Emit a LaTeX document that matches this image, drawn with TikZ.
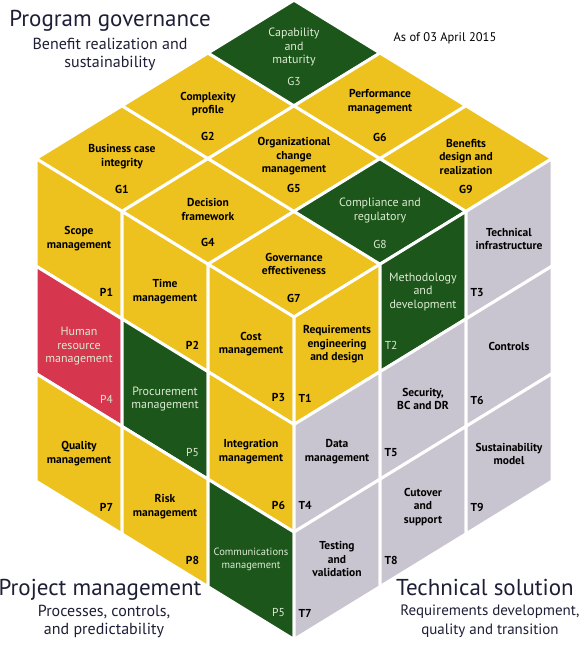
\documentclass[tikz,border=0pt]{standalone}
\usepackage{fontspec}
\setmainfont{PT Sans}
\usepackage{tikz}
\usetikzlibrary{positioning}

\definecolor{cubeyellow}{HTML}{EEC21E}
\definecolor{cubegreen}{HTML}{1D561B}
\definecolor{cubered}{HTML}{D6374E}
\definecolor{cubegray}{HTML}{C9C5D0}
\definecolor{inkblue}{HTML}{1E1E36}
\definecolor{paletext}{HTML}{DCEBD2}

\begin{document}
\begin{tikzpicture}[
    cell/.style={draw=white,line width=3pt,line join=round},
    ycell/.style={cell,fill=cubeyellow},
    gcell/.style={cell,fill=cubegreen},
    rcell/.style={cell,fill=cubered},
    grycell/.style={cell,fill=cubegray},
    txt/.style={align=center,font=\bfseries\fontsize{11.5}{13.5}\selectfont,text=black,inner sep=0pt},
    wtxt/.style={align=center,font=\fontsize{12}{13.5}\selectfont,text=paletext,inner sep=0pt},
    tag/.style={font=\bfseries\fontsize{11.5}{13}\selectfont,text=black,inner sep=0pt},
    wtag/.style={font=\fontsize{11.5}{13}\selectfont,text=paletext,inner sep=0pt},
    heading/.style={font=\fontsize{23}{25}\selectfont,text=inkblue,inner sep=0pt,anchor=base},
    subheading/.style={font=\fontsize{16}{18.5}\selectfont,text=inkblue,inner sep=0pt,anchor=base,align=center}
]

\useasboundingbox (0,0) rectangle (588pt,649pt);

% Face titles
\node[heading] (pg) at (110pt,622pt) {Program governance};
\node[subheading] (pgsub) at (110pt,581pt) {Benefit realization and\\sustainability};
\node[heading] (pm) at (100pt,53pt) {Project management};
\node[subheading] (pmsub) at (104pt,14pt) {Processes, controls,\\and predictability};
\node[heading] (ts) at (485pt,53pt) {Technical solution};
\node[subheading,font=\fontsize{15}{18.5}\selectfont] (tssub) at (490pt,15pt) {Requirements development,\\quality and transition};
\node[font=\fontsize{12.5}{14}\selectfont,inner sep=0pt] (date) at (445pt,611pt) {As of 03 April 2015};

\begin{scope}[shift={(294pt,332pt)},x={(86pt,52.8pt)},y={(-86pt,52.8pt)},z={(0pt,-107.5pt)}]

% Governance cells (top face)
\path[ycell] (0,2,0) -- (1,2,0) -- (1,3,0) -- (0,3,0) -- cycle;
\path[ycell] (1,2,0) -- (2,2,0) -- (2,3,0) -- (1,3,0) -- cycle;
\path[gcell] (2,2,0) -- (3,2,0) -- (3,3,0) -- (2,3,0) -- cycle;
\path[ycell] (0,1,0) -- (1,1,0) -- (1,2,0) -- (0,2,0) -- cycle;
\path[ycell] (1,1,0) -- (2,1,0) -- (2,2,0) -- (1,2,0) -- cycle;
\path[ycell] (2,1,0) -- (3,1,0) -- (3,2,0) -- (2,2,0) -- cycle;
\path[ycell] (0,0,0) -- (1,0,0) -- (1,1,0) -- (0,1,0) -- cycle;
\path[gcell] (1,0,0) -- (2,0,0) -- (2,1,0) -- (1,1,0) -- cycle;
\path[ycell] (2,0,0) -- (3,0,0) -- (3,1,0) -- (2,1,0) -- cycle;

% Project cells (left face)
\path[ycell] (0,2,0) -- (0,3,0) -- (0,3,1) -- (0,2,1) -- cycle;
\path[ycell] (0,1,0) -- (0,2,0) -- (0,2,1) -- (0,1,1) -- cycle;
\path[ycell] (0,0,0) -- (0,1,0) -- (0,1,1) -- (0,0,1) -- cycle;
\path[rcell] (0,2,1) -- (0,3,1) -- (0,3,2) -- (0,2,2) -- cycle;
\path[gcell] (0,1,1) -- (0,2,1) -- (0,2,2) -- (0,1,2) -- cycle;
\path[ycell] (0,0,1) -- (0,1,1) -- (0,1,2) -- (0,0,2) -- cycle;
\path[ycell] (0,2,2) -- (0,3,2) -- (0,3,3) -- (0,2,3) -- cycle;
\path[ycell] (0,1,2) -- (0,2,2) -- (0,2,3) -- (0,1,3) -- cycle;
\path[gcell] (0,0,2) -- (0,1,2) -- (0,1,3) -- (0,0,3) -- cycle;

% Technical cells (right face)
\path[ycell] (0,0,0) -- (1,0,0) -- (1,0,1) -- (0,0,1) -- cycle;
\path[gcell] (1,0,0) -- (2,0,0) -- (2,0,1) -- (1,0,1) -- cycle;
\path[grycell] (2,0,0) -- (3,0,0) -- (3,0,1) -- (2,0,1) -- cycle;
\path[grycell] (0,0,1) -- (1,0,1) -- (1,0,2) -- (0,0,2) -- cycle;
\path[grycell] (1,0,1) -- (2,0,1) -- (2,0,2) -- (1,0,2) -- cycle;
\path[grycell] (2,0,1) -- (3,0,1) -- (3,0,2) -- (2,0,2) -- cycle;
\path[grycell] (0,0,2) -- (1,0,2) -- (1,0,3) -- (0,0,3) -- cycle;
\path[grycell] (1,0,2) -- (2,0,2) -- (2,0,3) -- (1,0,3) -- cycle;
\path[grycell] (2,0,2) -- (3,0,2) -- (3,0,3) -- (2,0,3) -- cycle;

% Governance texts
\node[txt,yshift=2pt] (g1) at (0.5,2.5,0) {Business case\\integrity};
\node[txt,yshift=2pt] (g2) at (1.5,2.5,0) {Complexity\\profile};
\node[wtxt,yshift=6pt] (g3) at (2.5,2.5,0) {Capability\\and\\maturity};
\node[txt,yshift=2pt] (g4) at (0.5,1.5,0) {Decision\\framework};
\node[txt,yshift=2pt] (g5) at (1.5,1.5,0) {Organizational\\change\\management};
\node[txt,yshift=4pt] (g6) at (2.5,1.5,0) {Performance\\management};
\node[txt,yshift=0pt] (g7) at (0.5,0.5,0) {Governance\\effectiveness};
\node[wtxt,yshift=1pt] (g8) at (1.5,0.5,0) {Compliance and\\regulatory};
\node[txt,yshift=2pt] (g9) at (2.5,0.5,0) {Benefits\\design and\\realization};
\node[tag,yshift=-31pt] (g1id) at (0.5,2.5,0) {G1};
\node[tag,yshift=-31pt] (g2id) at (1.5,2.5,0) {G2};
\node[wtag,yshift=-28pt] (g3id) at (2.5,2.5,0) {G3};
\node[tag,yshift=-31pt] (g4id) at (0.5,1.5,0) {G4};
\node[tag,yshift=-30pt] (g5id) at (1.5,1.5,0) {G5};
\node[tag,yshift=-32pt] (g6id) at (2.5,1.5,0) {G6};
\node[tag,yshift=-34pt] (g7id) at (0.5,0.5,0) {G7};
\node[wtag,yshift=-33pt] (g8id) at (1.5,0.5,0) {G8};
\node[tag,yshift=-31pt] (g9id) at (2.5,0.5,0) {G9};

% Project texts
\node[txt] (p1) at (0,2.5,0.5) {Scope\\management};
\node[txt] (p2) at (0,1.5,0.5) {Time\\management};
\node[txt] (p3) at (0,0.5,0.5) {Cost\\management};
\node[wtxt] (p4) at (0,2.5,1.5) {Human\\resource\\management};
\node[wtxt] (p5) at (0,1.5,1.5) {Procurement\\management};
\node[txt] (p6) at (0,0.5,1.5) {Integration\\management};
\node[txt] (p7) at (0,2.5,2.5) {Quality\\management};
\node[txt] (p8) at (0,1.5,2.5) {Risk\\management};
\node[wtxt,font=\fontsize{10.5}{12.5}\selectfont] (p9) at (0,0.5,2.5) {Communications\\management};
\node[tag] (p1id) at (0,2.18,0.84) {P1};
\node[tag] (p2id) at (0,1.18,0.84) {P2};
\node[tag] (p3id) at (0,0.18,0.84) {P3};
\node[wtag] (p4id) at (0,2.18,1.84) {P4};
\node[wtag] (p5id) at (0,1.18,1.84) {P5};
\node[tag] (p6id) at (0,0.18,1.84) {P6};
\node[tag] (p7id) at (0,2.18,2.84) {P7};
\node[tag] (p8id) at (0,1.18,2.84) {P8};
\node[wtag] (p9id) at (0,0.18,2.84) {P5};

% Technical texts
\node[txt] (t1) at (0.5,0,0.5) {Requirements\\engineering\\and design};
\node[wtxt] (t2) at (1.5,0,0.5) {Methodology\\and\\development};
\node[txt] (t3) at (2.5,0,0.5) {Technical\\infrastructure};
\node[txt] (t4) at (0.5,0,1.5) {Data\\management};
\node[txt] (t5) at (1.5,0,1.5) {Security,\\BC and DR};
\node[txt] (t6) at (2.5,0,1.5) {Controls};
\node[txt] (t7) at (0.5,0,2.5) {Testing\\and\\validation};
\node[txt] (t8) at (1.5,0,2.5) {Cutover\\and\\support};
\node[txt] (t9) at (2.5,0,2.5) {Sustainability\\model};
\node[tag] (t1id) at (0.13,0,0.82) {T1};
\node[wtag] (t2id) at (1.13,0,0.82) {T2};
\node[tag] (t3id) at (2.13,0,0.82) {T3};
\node[tag] (t4id) at (0.13,0,1.82) {T4};
\node[tag] (t5id) at (1.13,0,1.82) {T5};
\node[tag] (t6id) at (2.13,0,1.82) {T6};
\node[tag] (t7id) at (0.13,0,2.82) {T7};
\node[tag] (t8id) at (1.13,0,2.82) {T8};
\node[tag] (t9id) at (2.13,0,2.82) {T9};

\end{scope}

\end{tikzpicture}
\end{document}
